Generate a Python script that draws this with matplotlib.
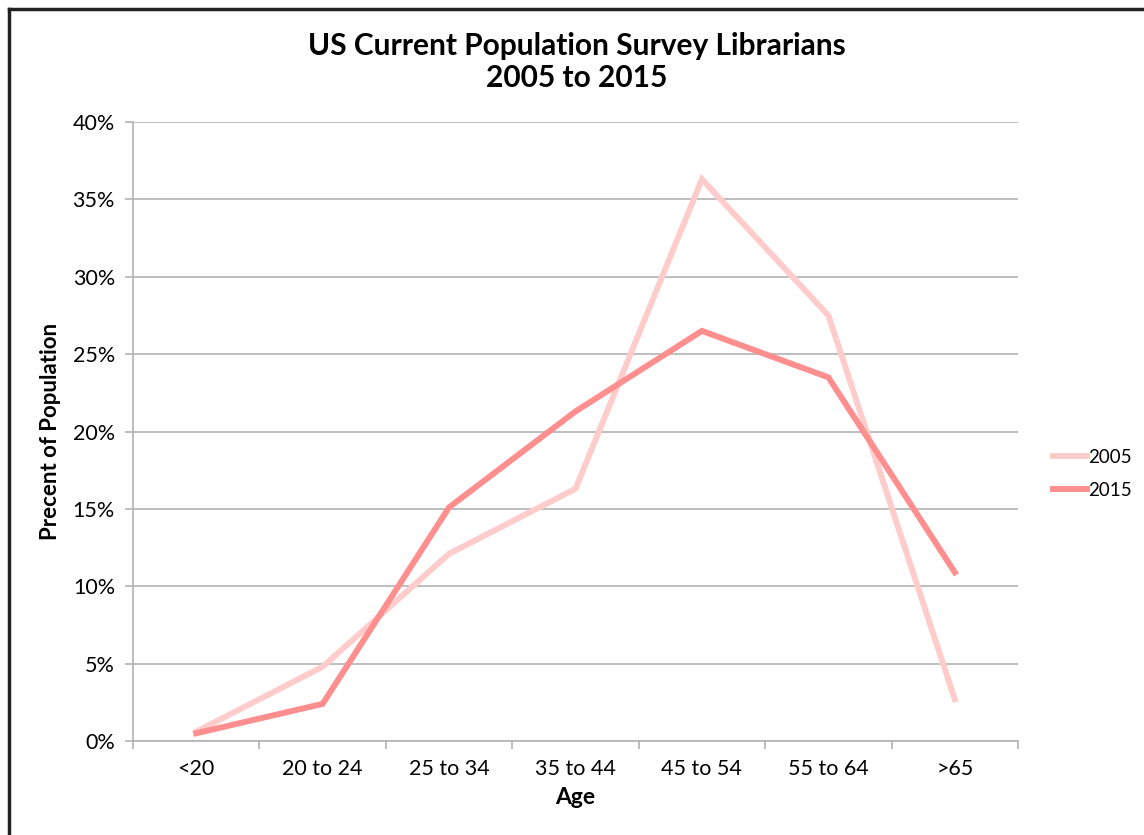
import matplotlib
matplotlib.use("Agg")
import matplotlib.pyplot as plt
from matplotlib.lines import Line2D
from matplotlib.ticker import FuncFormatter, FixedLocator, NullFormatter

plt.rcParams['font.family'] = ['Lato', 'DejaVu Sans']

categories = ["<20", "20 to 24", "25 to 34", "35 to 44", "45 to 54", "55 to 64", ">65"]
values_2005 = [0.6, 4.8, 12.1, 16.3, 36.3, 27.5, 2.7]
values_2015 = [0.5, 2.4, 15.1, 21.3, 26.5, 23.5, 10.9]
series_labels = ["2005", "2015"]
yticks = [0, 5, 10, 15, 20, 25, 30, 35, 40]

W, H = 1144, 835
fig = plt.figure(figsize=(W / 100, H / 100), dpi=100)
ax = fig.add_axes([133 / W, 1 - 741 / H, (1018 - 133) / W, (741 - 122) / H])

x = list(range(len(categories)))
ax.plot(x, values_2005, color="#FFCCCC", lw=4.3, solid_joinstyle="miter", label=series_labels[0], zorder=3)
ax.plot(x, values_2015, color="#FF8F8F", lw=4.3, solid_joinstyle="miter", label=series_labels[1], zorder=4)

ax.set_xlim(-0.5, len(categories) - 0.5)
ax.set_ylim(0, 40)
ax.set_yticks(yticks)
ax.yaxis.set_major_formatter(FuncFormatter(lambda v, p: f"{int(v)}%"))
ax.grid(axis="y", color="#B3B3B3", lw=1.2)
ax.set_axisbelow(True)

ax.set_xticks(x)
ax.set_xticklabels(categories)
ax.xaxis.set_minor_locator(FixedLocator([i - 0.5 for i in range(len(categories) + 1)]))
ax.xaxis.set_minor_formatter(NullFormatter())
ax.tick_params(axis="x", which="major", length=0, pad=13, labelsize=15.5)
ax.tick_params(axis="x", which="minor", length=6, color="#B3B3B3", width=1.2)
ax.tick_params(axis="y", length=6, color="#B3B3B3", width=1.2, pad=7, labelsize=15.5)

for s in ["top", "right"]:
    ax.spines[s].set_visible(False)
for s in ["left", "bottom"]:
    ax.spines[s].set_color("#B3B3B3")
    ax.spines[s].set_linewidth(1.2)

ax.set_xlabel("Age", fontsize=16.5, fontweight="bold", labelpad=6)
ax.set_ylabel("Precent of Population", fontsize=16, fontweight="bold", labelpad=8)

fig.text(577 / W, 1 - 62 / H, "US Current Population Survey Librarians\n2005 to 2015",
         ha="center", va="center", fontsize=21.5, fontweight="bold", linespacing=1.2)

leg = ax.legend(loc="center left", bbox_to_anchor=(1036 / W, 1 - 474 / H),
                bbox_transform=fig.transFigure, frameon=False, fontsize=13.5,
                handlelength=1.8, handletextpad=0.1, labelspacing=0.85)

# frame border (top and left visible)
fig.add_artist(Line2D([9 / W, 1.0], [1 - 9 / H, 1 - 9 / H], color="#222222", lw=2.5, transform=fig.transFigure))
fig.add_artist(Line2D([9 / W, 9 / W], [0.0, 1 - 9 / H], color="#222222", lw=2.5, transform=fig.transFigure))

fig.savefig("out.png", dpi=100)
